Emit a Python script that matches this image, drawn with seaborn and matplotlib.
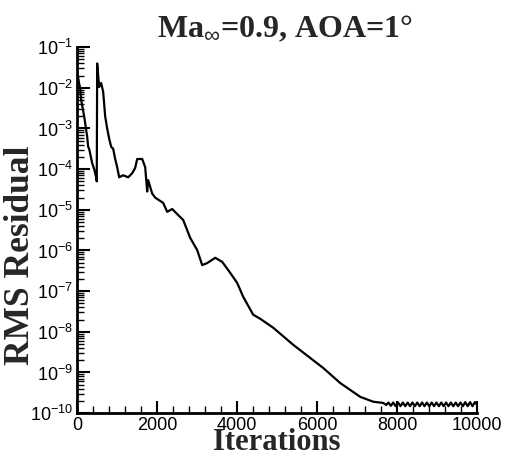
import matplotlib
matplotlib.use("Agg")
import matplotlib.pyplot as plt
import seaborn as sns
import numpy as np
import pandas as pd
from matplotlib.ticker import MultipleLocator, LogLocator, NullFormatter

# iterations and log10(RMS residual)
iters_main = [0, 25, 50, 75, 100, 175, 250, 275, 300, 375, 425, 475, 490,
              500, 550, 600, 650, 700, 750, 800, 850, 900, 950, 1000, 1050,
              1150, 1275, 1375, 1450, 1500, 1625, 1700, 1750, 1775, 1875,
              1950, 2150, 2250, 2375, 2525, 2650, 2750, 2825, 3000, 3125,
              3250, 3450, 3625, 3825, 4000, 4150, 4400, 4575, 4900, 5400,
              6150, 6575, 7075, 7400, 7650]
logres_main = [-1.6, -1.75, -1.9, -2.0, -2.3, -2.7, -3.2, -3.45, -3.5, -3.85,
               -4.0, -4.2, -4.3,
               -1.4, -1.98, -1.88, -2.1, -2.7, -3.0, -3.25, -3.45, -3.5,
               -3.75, -3.95, -4.2, -4.15, -4.2, -4.1, -3.97, -3.75, -3.75,
               -3.95, -4.55, -4.27, -4.6, -4.7, -4.83, -5.05, -4.98, -5.13,
               -5.25, -5.5, -5.69, -5.99, -6.36, -6.31, -6.18, -6.28, -6.55,
               -6.8, -7.14, -7.58, -7.68, -7.9, -8.32, -8.89, -9.26, -9.6,
               -9.72, -9.75]
iters_tail = [7720, 7780, 7840, 7900, 7960, 8020, 8080, 8140, 8200, 8260,
              8320, 8380, 8440, 8500, 8560, 8620, 8680, 8740, 8800, 8860,
              8920, 8980, 9040, 9100, 9160, 9220, 9280, 9340, 9400, 9460,
              9520, 9580, 9640, 9700, 9760, 9820, 9880, 9940, 10000]
logres_tail = [-9.80, -9.74, -9.82, -9.74, -9.83, -9.74, -9.83, -9.74, -9.83,
               -9.74, -9.83, -9.74, -9.83, -9.74, -9.83, -9.74, -9.83, -9.74,
               -9.83, -9.74, -9.83, -9.74, -9.83, -9.74, -9.83, -9.74, -9.83,
               -9.74, -9.83, -9.74, -9.83, -9.74, -9.83, -9.73, -9.83, -9.73,
               -9.83, -9.73, -9.80]

df = pd.DataFrame({
    "Iterations": iters_main + iters_tail,
    "RMS": [10.0 ** v for v in logres_main + logres_tail],
})

sns.set_theme(style="ticks")
plt.rcParams["font.family"] = ["Liberation Sans", "DejaVu Sans"]
plt.rcParams["mathtext.fontset"] = "custom"
plt.rcParams["mathtext.rm"] = "Liberation Sans"
plt.rcParams["mathtext.it"] = "Liberation Sans:italic"
plt.rcParams["mathtext.bf"] = "Liberation Sans:bold"

fig = plt.figure(figsize=(5.11, 4.58), dpi=100)
ax = fig.add_axes([0.151, 0.098, 0.783, 0.799])

sns.lineplot(data=df, x="Iterations", y="RMS", ax=ax, color="black",
             linewidth=1.6, sort=False, estimator=None)

ax.set_yscale("log")
ax.set_xlim(0, 10000)
ax.set_ylim(1e-10, 1e-1)
ax.xaxis.set_major_locator(MultipleLocator(2000))
ax.xaxis.set_minor_locator(MultipleLocator(400))
ax.yaxis.set_major_locator(LogLocator(base=10, numticks=20))
ax.yaxis.set_minor_locator(LogLocator(base=10, subs=np.arange(2, 10), numticks=20))
ax.yaxis.set_minor_formatter(NullFormatter())

for s in ["top", "right"]:
    ax.spines[s].set_visible(False)
for s in ["left", "bottom"]:
    ax.spines[s].set_linewidth(2.0)
    ax.spines[s].set_color("black")

ax.tick_params(axis="both", which="major", direction="in", length=9, width=1.5,
               labelsize=13, colors="black", pad=3)
ax.tick_params(axis="both", which="minor", direction="in", length=5, width=1.0,
               colors="black")

ax.set_xlabel("Iterations", fontfamily="Liberation Serif", fontweight="bold",
              fontsize=22)
ax.set_ylabel("RMS Residual", fontfamily="Liberation Serif", fontweight="bold",
              fontsize=25.5)
ax.xaxis.set_label_coords(0.5, -0.042)
ax.yaxis.set_label_coords(-0.1, 0.43)

fig.text(0.558, 0.935, r"Ma$_{\infty}$=0.9, AOA=1°", ha="center", va="center",
         fontfamily="Liberation Serif", fontweight="bold", fontsize=23)

fig.savefig("out.png", dpi=100, facecolor="white")
